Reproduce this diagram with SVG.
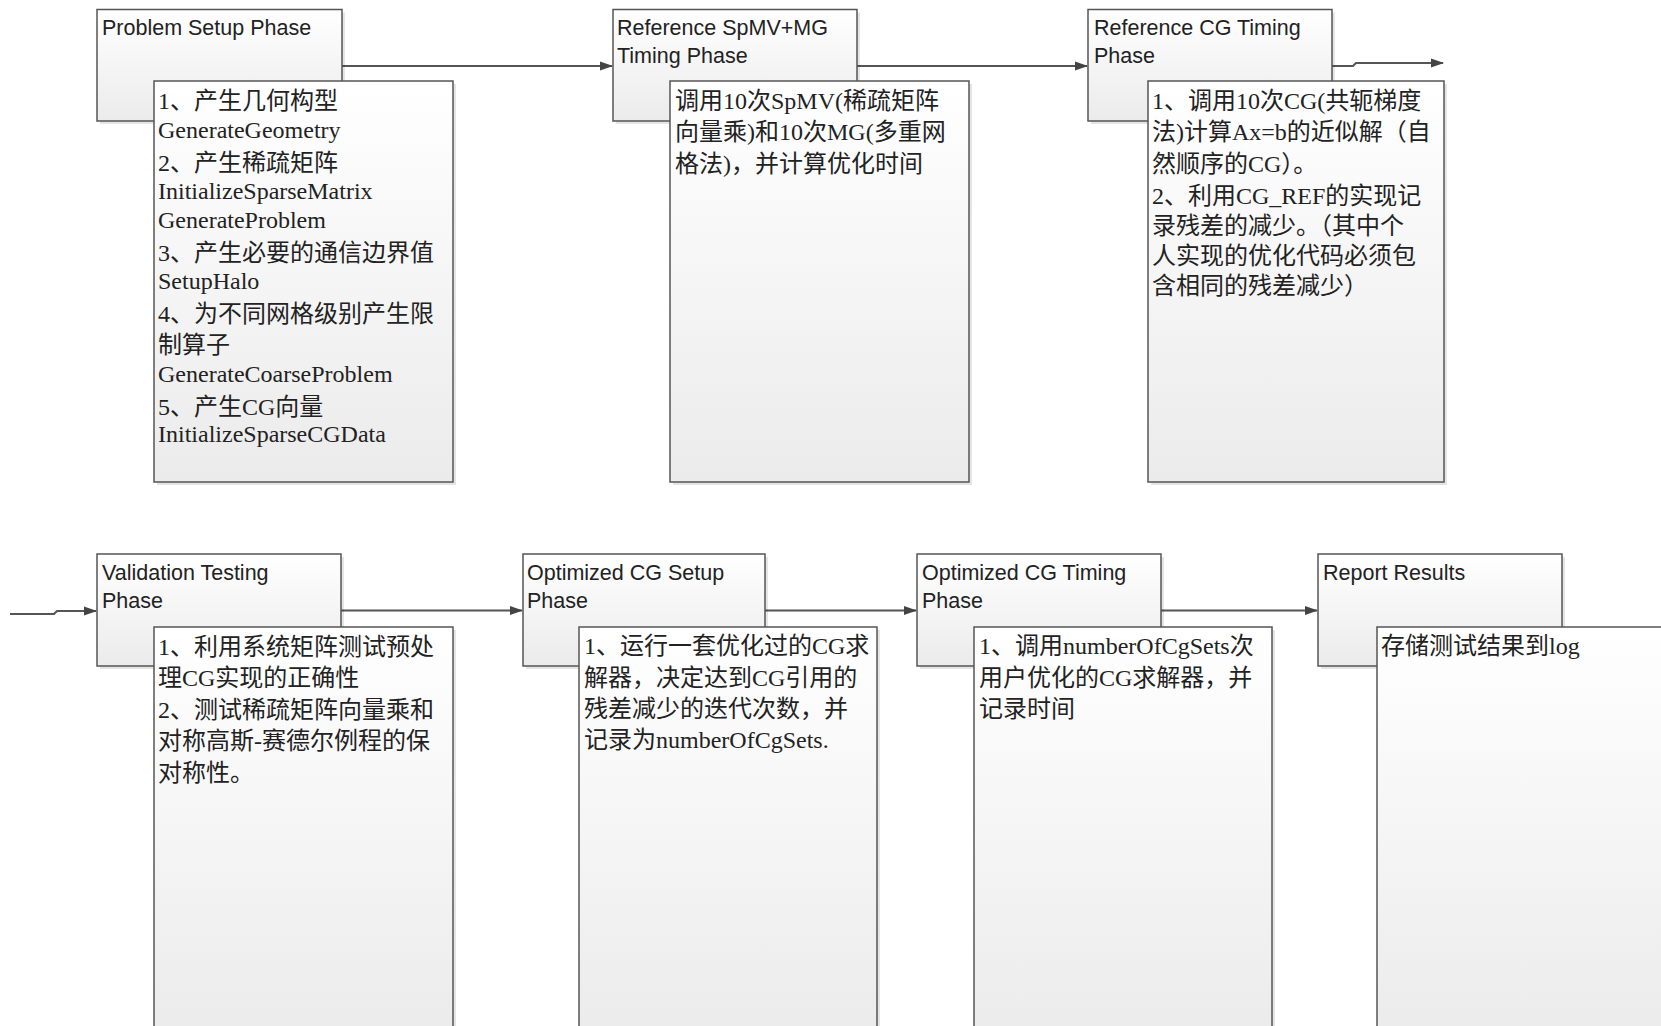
<svg xmlns="http://www.w3.org/2000/svg" width="1661" height="1026" viewBox="0 0 1661 1026">
<style>
.hd{fill:url(#gh);stroke:#555;stroke-width:1.5}
.dt{fill:url(#gd);stroke:#555;stroke-width:1.5}
.sh{fill:#000;opacity:.10}
.ht{font-family:"Liberation Sans","Noto Sans CJK SC",sans-serif;font-size:21.5px;fill:#222}
.tx{font-family:"Liberation Serif","Noto Sans CJK SC",serif;font-size:24px;fill:#222}
.cn{fill:none;stroke:#555;stroke-width:2}
</style>
<defs>
<linearGradient id="gh" x1="0" y1="0" x2="0" y2="1"><stop offset="0" stop-color="#ffffff"/><stop offset="1" stop-color="#ebebeb"/></linearGradient>
<linearGradient id="gd" x1="0" y1="0" x2="0" y2="1"><stop offset="0" stop-color="#ffffff"/><stop offset="1" stop-color="#ebebeb"/></linearGradient>
<marker id="ar" markerWidth="13" markerHeight="10" refX="12" refY="5" orient="auto" markerUnits="userSpaceOnUse"><path d="M0,0.5 L13,5 L0,9.5 Z" fill="#444"/></marker>
</defs>
<rect width="1661" height="1026" fill="#fff"/>

<g id="connectors">
<path class="cn" d="M342,66 L612,66" marker-end="url(#ar)"/>
<path class="cn" d="M857,66 L1087,66" marker-end="url(#ar)"/>
<path class="cn" d="M1332,66 L1353,66 L1356,63 L1443,63" marker-end="url(#ar)"/>
<path class="cn" d="M10,614 L54,614 L57,611 L96,611" marker-end="url(#ar)"/>
<path class="cn" d="M341,610.5 L522,610.5" marker-end="url(#ar)"/>
<path class="cn" d="M765,610.5 L916,610.5" marker-end="url(#ar)"/>
<path class="cn" d="M1161,610.5 L1317,610.5" marker-end="url(#ar)"/>
</g>

<g id="n1">
<rect class="sh" x="100" y="12.5" width="245" height="111.5"/>
<rect class="hd" x="97" y="9.5" width="245" height="111.5"/>
<text class="ht" x="102" y="35">Problem Setup Phase</text>
<rect class="sh" x="157" y="84" width="299" height="401"/>
<rect class="dt" x="154" y="81" width="299" height="401"/>
<text class="tx" x="158" y="109">1、产生几何构型</text>
<text class="tx" x="158" y="138">GenerateGeometry</text>
<text class="tx" x="158" y="171">2、产生稀疏矩阵</text>
<text class="tx" x="158" y="199">InitializeSparseMatrix</text>
<text class="tx" x="158" y="228">GenerateProblem</text>
<text class="tx" x="158" y="261">3、产生必要的通信边界值</text>
<text class="tx" x="158" y="289">SetupHalo</text>
<text class="tx" x="158" y="322">4、为不同网格级别产生限</text>
<text class="tx" x="158" y="353">制算子</text>
<text class="tx" x="158" y="382">GenerateCoarseProblem</text>
<text class="tx" x="158" y="415">5、产生CG向量</text>
<text class="tx" x="158" y="442">InitializeSparseCGData</text>
</g>

<g id="n2">
<rect class="sh" x="616" y="12.5" width="244" height="111.5"/>
<rect class="hd" x="613" y="9.5" width="244" height="111.5"/>
<text class="ht" x="617" y="35">Reference SpMV+MG</text>
<text class="ht" x="617" y="63">Timing Phase</text>
<rect class="sh" x="673" y="84" width="299" height="401"/>
<rect class="dt" x="670" y="81" width="299" height="401"/>
<text class="tx" x="675" y="109">调用10次SpMV(稀疏矩阵</text>
<text class="tx" x="675" y="140">向量乘)和10次MG(多重网</text>
<text class="tx" x="675" y="172">格法)，并计算优化时间</text>
</g>

<g id="n3">
<rect class="sh" x="1091" y="12.5" width="244" height="111.5"/>
<rect class="hd" x="1088" y="9.5" width="244" height="111.5"/>
<text class="ht" x="1094" y="35">Reference CG Timing</text>
<text class="ht" x="1094" y="63">Phase</text>
<rect class="sh" x="1151" y="84" width="296" height="401"/>
<rect class="dt" x="1148" y="81" width="296" height="401"/>
<text class="tx" x="1152" y="109">1、调用10次CG(共轭梯度</text>
<text class="tx" x="1152" y="140">法)计算Ax=b的近似解（自</text>
<text class="tx" x="1152" y="172">然顺序的CG）。</text>
<text class="tx" x="1152" y="204">2、利用CG_REF的实现记</text>
<text class="tx" x="1152" y="234">录残差的减少。（其中个</text>
<text class="tx" x="1152" y="264">人实现的优化代码必须包</text>
<text class="tx" x="1152" y="294">含相同的残差减少）</text>
</g>

<g id="n4">
<rect class="sh" x="100" y="557" width="244" height="112"/>
<rect class="hd" x="97" y="554" width="244" height="112"/>
<text class="ht" x="102" y="580">Validation Testing</text>
<text class="ht" x="102" y="608">Phase</text>
<rect class="sh" x="157" y="630" width="299" height="410"/>
<rect class="dt" x="154" y="627" width="299" height="410"/>
<text class="tx" x="158" y="655">1、利用系统矩阵测试预处</text>
<text class="tx" x="158" y="686">理CG实现的正确性</text>
<text class="tx" x="158" y="718">2、测试稀疏矩阵向量乘和</text>
<text class="tx" x="158" y="749">对称高斯-赛德尔例程的保</text>
<text class="tx" x="158" y="781">对称性。</text>
</g>

<g id="n5">
<rect class="sh" x="526" y="557" width="242" height="112"/>
<rect class="hd" x="523" y="554" width="242" height="112"/>
<text class="ht" x="527" y="580">Optimized CG Setup</text>
<text class="ht" x="527" y="608">Phase</text>
<rect class="sh" x="582" y="630" width="298" height="410"/>
<rect class="dt" x="579" y="627" width="298" height="410"/>
<text class="tx" x="584" y="654">1、运行一套优化过的CG求</text>
<text class="tx" x="584" y="686">解器，决定达到CG引用的</text>
<text class="tx" x="584" y="717">残差减少的迭代次数，并</text>
<text class="tx" x="584" y="748">记录为numberOfCgSets.</text>
</g>

<g id="n6">
<rect class="sh" x="920" y="557" width="244" height="112"/>
<rect class="hd" x="917" y="554" width="244" height="112"/>
<text class="ht" x="922" y="580">Optimized CG Timing</text>
<text class="ht" x="922" y="608">Phase</text>
<rect class="sh" x="977" y="630" width="298" height="410"/>
<rect class="dt" x="974" y="627" width="298" height="410"/>
<text class="tx" x="979" y="654">1、调用numberOfCgSets次</text>
<text class="tx" x="979" y="686">用户优化的CG求解器，并</text>
<text class="tx" x="979" y="717">记录时间</text>
</g>

<g id="n7">
<rect class="sh" x="1321" y="557" width="244" height="112"/>
<rect class="hd" x="1318" y="554" width="244" height="112"/>
<text class="ht" x="1323" y="580">Report Results</text>
<rect class="sh" x="1380" y="630" width="300" height="410"/>
<rect class="dt" x="1377" y="627" width="300" height="410"/>
<text class="tx" x="1381" y="654">存储测试结果到log</text>
</g>
</svg>
